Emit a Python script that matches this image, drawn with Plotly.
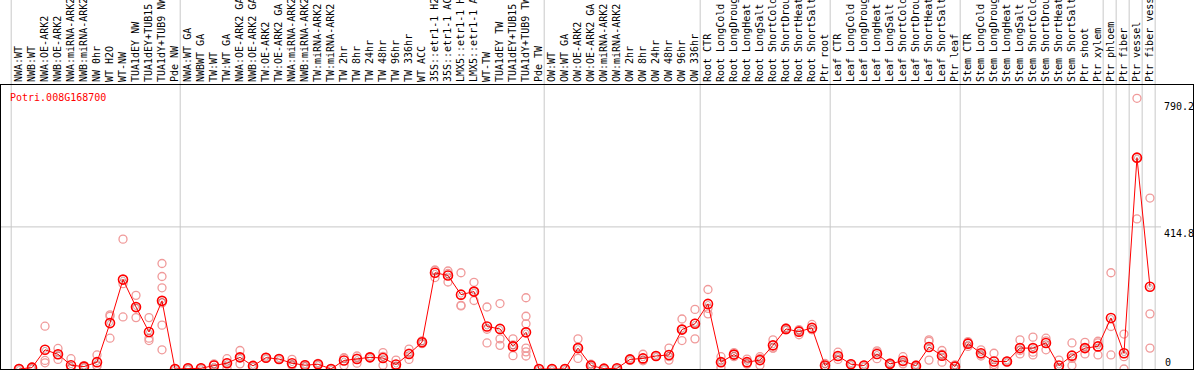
import plotly.graph_objects as go

categories = [
    "NWA:WT", "NWB:WT", "NWA:OE-ARK2", "NWB:OE-ARK2", "NWA:miRNA-ARK2", "NWB:miRNA-ARK2",
    "NW 0hr", "WT H2O", "WT-NW", "TUA1dEY NW", "TUA1dEY+TUB15 NW", "TUA1dY+TUB9 NW", "Pde NW",
    "NWA:WT GA", "NWBWT GA", "TW:WT", "TW:WT GA", "NWA:OE-ARK2 GA", "NWB:OE-ARK2 GA",
    "TW:OE-ARK2", "TW:OE-ARK2 GA", "NWA:miRNA-ARK2 GA", "NWB:miRNA-ARK2 GA", "TW:miRNA-ARK2",
    "TW:miRNA-ARK2 GA", "TW 2hr", "TW 8hr", "TW 24hr", "TW 48hr", "TW 96hr", "TW 336hr",
    "WT ACC", "35S::etr1-1 H2O", "35S::etr1-1 ACC", "LMX5::etr1-1 H2O", "LMX5::etr1-1 ACC",
    "WT-TW", "TUA1dEY TW", "TUA1dEY+TUB15 TW", "TUA1dY+TUB9 TW", "Pde TW",
    "OW:WT", "OW:WT GA", "OW:OE-ARK2", "OW:OE-ARK2 GA", "OW:miRNA-ARK2", "OW:miRNA-ARK2 GA",
    "OW 2hr", "OW 8hr", "OW 24hr", "OW 48hr", "OW 96hr", "OW 336hr",
    "Root CTR", "Root LongCold", "Root LongDrought", "Root LongHeat", "Root LongSalt",
    "Root ShortCold", "Root ShortDrought", "Root ShortHeat", "Root ShortSalt", "Ptr root",
    "Leaf CTR", "Leaf LongCold", "Leaf LongDrought", "Leaf LongHeat", "Leaf LongSalt",
    "Leaf ShortCold", "Leaf ShortDrought", "Leaf ShortHeat", "Leaf ShortSalt", "Ptr leaf",
    "Stem CTR", "Stem LongCold", "Stem LongDrought", "Stem LongHeat", "Stem LongSalt",
    "Stem ShortCold", "Stem ShortDrought", "Stem ShortHeat", "Stem ShortSalt", "Ptr shoot",
    "Ptr xylem", "Ptr phloem", "Ptr fiber", "Ptr vessel", "Ptr fiber vessel",
]

group_sizes = [13, 28, 12, 10, 10, 11, 1, 1, 1, 1]

mean_vals = [
    0, 4, 56, 43, 11, 7, 20, 134, 261, 181, 108, 199, 0,
    2, 2, 10, 17, 34, 9, 33, 29, 17, 11, 14, 0, 25, 29, 34, 32, 13, 44,
    78, 281, 273, 217, 226, 124, 117, 66, 107, 0,
    0, 0, 61, 10, 1, 2, 28, 31, 38, 41, 115, 132,
    190, 20, 42, 20, 26, 69, 117, 109, 120, 10,
    38, 14, 10, 44, 15, 24, 9, 64, 39, 7,
    74, 46, 22, 22, 61, 61, 76, 10, 39, 61, 66,
    149, 46, 617, 240,
]

rep1 = [
    0, 2, 125, 60, 30, 10, 41, 158, 379, 215, 150, 308, 0,
    0, 3, 15, 30, 54, 10, 34, 30, 28, 13, 16, 0, 33, 38, 35, 48, 26, 58,
    82, 289, 286, 281, 253, 181, 191, 88, 208, 0,
    0, 0, 88, 14, 2, 1, 28, 43, 38, 61, 146, 174,
    232, 36, 48, 29, 36, 85, 117, 100, 130, 16,
    49, 15, 11, 53, 17, 36, 12, 85, 54, 12,
    80, 56, 46, 22, 85, 93, 90, 26, 76, 78, 76,
    281, 102, 790.2, 499,
]

rep2 = [
    0, 6, 25, 28, 2, 5, 10, 154, 249, 150, 90, 270, 0,
    4, 1, 2, 18, 15, 8, 32, 28, 10, 8, 12, 0, 10, 17, 33, 11, 5, 28,
    74, 267, 254, 186, 200, 76, 88, 39, 154, 0,
    0, 1, 31, 8, 0, 2, 29, 24, 39, 26, 83, 88,
    161, 5, 36, 14, 11, 61, 120, 115, 115, 5,
    28, 13, 9, 30, 13, 21, 7, 26, 20, 0,
    66, 38, 13, 21, 44, 41, 56, 0, 10, 44, 41,
    124, 0, 617, 161,
]

rep3 = [
    2, 4, 18, 42, 1, 6, 9, 90, 152, 178, 83, 237, 0,
    2, 2, 13, 3, 33, 9, 33, 29, 13, 12, 14, 1, 32, 32, 34, 37, 8, 46,
    78, 287, 279, 184, 226, 116, 69, 70, 132, 0,
    0, 0, 63, 8, 0, 1, 27, 26, 37, 36, 116, 134,
    177, 19, 42, 17, 31, 61, 114, 112, 115, 9,
    37, 14, 10, 49, 15, 15, 8, 81, 43, 9,
    76, 44, 6, 23, 54, 49, 82, 4, 31, 61, 81,
    41, 36, 438, 61,
]

# extra replicates (only two conditions have six samples)
rep4 = {11: 193, 39: 61}
rep5 = {11: 128, 39: 50}
rep6 = {11: 56, 39: 38}

gene_id = "Potri.008G168700"
right_labels = [790.2, 414.8, 0]

FONT = "DejaVu Sans Mono"
RED = "#ff0000"
PINK = "#f09a9a"
GRAY = "#c8c8c8"

xi = list(range(len(categories)))

rx, ry = [], []
for arr in (rep1, rep2, rep3):
    for i, v in enumerate(arr):
        rx.append(i)
        ry.append(v)
for d in (rep4, rep5, rep6):
    for i, v in d.items():
        rx.append(i)
        ry.append(v)

fig = go.Figure()
fig.add_trace(go.Scatter(
    x=rx, y=ry, mode="markers",
    marker=dict(symbol="circle-open", size=8, color=PINK, line=dict(width=1.3, color=PINK)),
    hoverinfo="skip", showlegend=False,
))
fig.add_trace(go.Scatter(
    x=xi, y=mean_vals, mode="lines+markers",
    line=dict(color=RED, width=1),
    marker=dict(symbol="circle-open", size=9, color=RED, line=dict(width=1.6, color=RED)),
    showlegend=False,
))
fig.add_trace(go.Scatter(
    x=xi, y=mean_vals, mode="markers",
    marker=dict(symbol="circle-open", size=5, color="rgba(90,0,0,0.4)",
                line=dict(width=0.8, color="rgba(90,0,0,0.4)")),
    hoverinfo="skip", showlegend=False,
))

# group separators
shapes = []
bounds = [-0.6]
c = 0
for g in group_sizes:
    c += g
    bounds.append(c - 0.6)
for b in bounds:
    shapes.append(dict(type="line", xref="x", yref="paper", x0=b, x1=b, y0=0, y1=1.31,
                       line=dict(color=GRAY, width=1), layer="below"))
shapes.append(dict(type="line", xref="x", yref="y", x0=-1.4, x1=87.85,
                   y0=right_labels[1], y1=right_labels[1],
                   line=dict(color=GRAY, width=1), layer="below"))

annotations = [
    dict(text=gene_id, xref="paper", yref="paper", x=(8 - 1) / 1192, y=(369 - 97) / 284,
         xanchor="left", yanchor="middle", showarrow=False,
         font=dict(family=FONT, size=10, color=RED)),
    dict(text=f"{right_labels[0]}", xref="x", yref="y", x=88.0, y=right_labels[0],
         xanchor="left", yanchor="top", yshift=-2, showarrow=False, borderpad=0,
         font=dict(family=FONT, size=10, color="black")),
    dict(text=f"{right_labels[1]}", xref="x", yref="y", x=88.0, y=right_labels[1],
         xanchor="left", yanchor="top", showarrow=False, borderpad=0,
         font=dict(family=FONT, size=10, color="black")),
    dict(text=f"{right_labels[2]}", xref="x", yref="y", x=88.05, y=right_labels[2],
         xanchor="left", yanchor="bottom", showarrow=False, borderpad=0,
         font=dict(family=FONT, size=10, color="black")),
]

fig.update_layout(
    width=1194, height=370,
    margin=dict(l=1, r=1, t=85, b=1, pad=0),
    paper_bgcolor="white", plot_bgcolor="white",
    showlegend=False,
    shapes=shapes,
    annotations=annotations,
    xaxis=dict(
        range=[-1.385, 90.31], side="top", tickmode="array", tickvals=xi, ticktext=categories,
        tickangle=-90, ticks="", showgrid=False, zeroline=False,
        showline=True, mirror=True, linecolor="black", linewidth=1,
        tickfont=dict(family=FONT, size=10, color="black"), automargin=False,
    ),
    yaxis=dict(
        range=[0, 829], showgrid=False, zeroline=False, showticklabels=False, ticks="",
        showline=True, mirror=True, linecolor="black", linewidth=1, automargin=False,
    ),
)

fig.write_html(
    "out.html",
    config={"displayModeBar": False},
    post_script="document.body.style.margin='0';document.body.style.overflow='hidden';",
)
